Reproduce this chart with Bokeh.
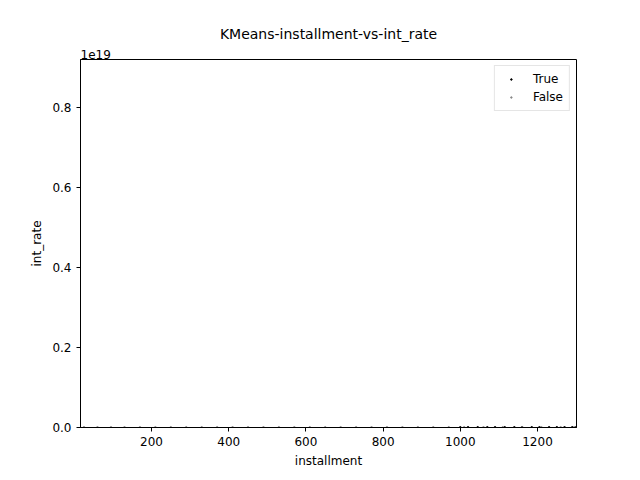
from bokeh.plotting import figure
from bokeh.models import Range1d, CustomJSTickFormatter, FixedTicker, Legend, Title
from bokeh.embed import file_html
from bokeh.resources import INLINE

# cluster False: installments spread over the whole range, int_rate near zero on this scale
false_installment = [25, 60, 95, 130, 170, 210, 250, 290, 330, 370, 410, 450, 490, 530,
                     570, 610, 650, 690, 730, 770, 810, 850, 890, 930, 970, 1010, 1060,
                     1110, 1160, 1210, 1260, 1295]
false_int_rate = [0.08, 0.11, 0.13, 0.09, 0.15, 0.12, 0.10, 0.14, 0.17, 0.07, 0.12, 0.13,
                  0.16, 0.11, 0.09, 0.14, 0.12, 0.18, 0.10, 0.13, 0.15, 0.11, 0.12, 0.14,
                  0.09, 0.16, 0.13, 0.12, 0.15, 0.11, 0.14, 0.13]
# cluster True: high installments
true_installment = [1000, 1020, 1045, 1070, 1090, 1115, 1140, 1160, 1185, 1205, 1230,
                    1250, 1270, 1290, 1300]
true_int_rate = [0.14, 0.16, 0.13, 0.18, 0.15, 0.17, 0.12, 0.19, 0.14, 0.16, 0.20,
                 0.15, 0.18, 0.13, 0.17]

FONT = "DejaVu Sans"

p = figure(width=632, height=472, output_backend="svg", toolbar_location=None,
           x_axis_label="installment", y_axis_label="int_rate",
           x_range=Range1d(16, 1301), y_range=Range1d(0, 9.2e18),
           min_border_left=80, min_border_right=56, min_border_top=59,
           min_border_bottom=45)

p.outline_line_color = "black"
p.xgrid.grid_line_color = None
p.ygrid.grid_line_color = None

# offset text of the y axis, then the main title above it
p.add_layout(Title(text="1e19", align="left", text_font=FONT, text_font_size="12px",
                   text_font_style="normal", text_color="black", standoff=2), "above")
p.add_layout(Title(text="KMeans-installment-vs-int_rate", align="center", text_font=FONT,
                   text_font_size="14px", text_font_style="normal", text_color="black"),
             "above")

for axis in [p.xaxis, p.yaxis]:
    axis.axis_label_text_font = FONT
    axis.axis_label_text_font_style = "normal"
    axis.axis_label_text_font_size = "12px"
    axis.axis_label_text_color = "black"
    axis.major_label_text_font = FONT
    axis.major_label_text_font_size = "12px"
    axis.major_label_text_color = "black"
    axis.minor_tick_line_color = None
    axis.major_tick_in = 0
    axis.major_tick_out = 4
    axis.axis_line_color = "black"

p.xaxis.ticker = FixedTicker(ticks=[200, 400, 600, 800, 1000, 1200])
p.yaxis.ticker = FixedTicker(ticks=[0, 2e18, 4e18, 6e18, 8e18])
p.yaxis.formatter = CustomJSTickFormatter(code="return (tick / 1e19).toFixed(1);")
p.yaxis.major_label_orientation = "horizontal"

r_true = p.scatter(true_installment, true_int_rate, size=2, color="black")
r_false = p.scatter(false_installment, false_int_rate, size=2, color="gray", alpha=0.8)

legend = Legend(items=[("True", [r_true]), ("False", [r_false])], location="top_right")
legend.label_text_font = FONT
legend.label_text_font_size = "12px"
legend.label_text_color = "black"
legend.border_line_color = "#cccccc"
legend.spacing = 4
legend.glyph_width = 20
legend.glyph_height = 4
legend.label_standoff = 12
legend.margin = 6
legend.padding = 6
p.add_layout(legend)

open("out.html", "w").write(file_html(p, INLINE))
